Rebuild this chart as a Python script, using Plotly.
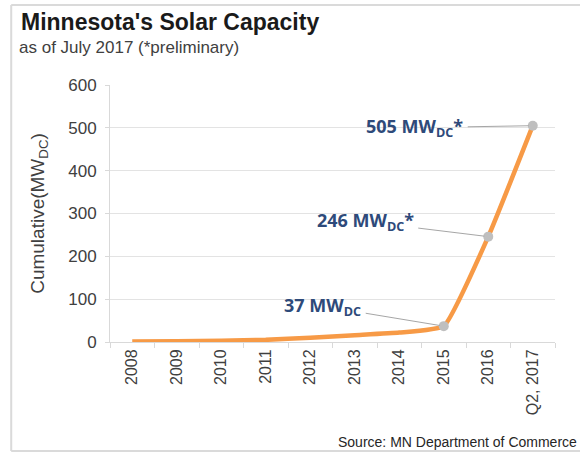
import plotly.graph_objects as go

categories = ["2008", "2009", "2010", "2011", "2012", "2013", "2014", "2015", "2016", "Q2, 2017"]
capacity = [1, 2, 3, 5, 10, 16, 22, 37, 246, 505]
labeled_idx = [7, 8, 9]
label_texts = ["37 MW<sub>DC</sub>", "246 MW<sub>DC</sub>*", "505 MW<sub>DC</sub>*"]
label_offsets = [(-121, -20), (-123, -15), (-118, 2)]
y_ticks = [0, 100, 200, 300, 400, 500, 600]

fig = go.Figure()
fig.add_trace(go.Scatter(
    x=categories, y=capacity, mode="lines",
    line=dict(color="#F79A46", width=4.5, shape="spline", smoothing=0.4),
    hoverinfo="skip", showlegend=False))
fig.add_trace(go.Scatter(
    x=[categories[i] for i in labeled_idx], y=[capacity[i] for i in labeled_idx],
    mode="markers", marker=dict(color="#BFBFBF", size=10),
    showlegend=False))

for i, t, (ax, ay) in zip(labeled_idx, label_texts, label_offsets):
    fig.add_annotation(
        x=i, y=capacity[i], text=t, showarrow=True,
        arrowhead=0, arrowwidth=1, arrowcolor="#A6A6A6", ax=ax, ay=ay,
        standoff=4, startstandoff=3,
        font=dict(family="Open Sans, Arial", size=18, color="#2E4A7A", weight="bold"))

fig.update_layout(
    width=580, height=453,
    margin=dict(l=110, r=25, t=85, b=111),
    paper_bgcolor="white", plot_bgcolor="white",
    font=dict(family="Liberation Sans, Arial", color="#404040"),
    xaxis=dict(type="category", range=[-0.5, 9.5], tickangle=-90,
               tickson="boundaries", ticks="outside", ticklen=5, tickcolor="#D9D9D9",
               showline=True, linecolor="#D9D9D9", linewidth=1, showgrid=False,
               tickfont=dict(size=16, color="#404040")),
    yaxis=dict(range=[0, 600], tickvals=y_ticks, ticks="outside", ticklen=4,
               tickcolor="#D9D9D9", showline=True, linecolor="#D9D9D9",
               gridcolor="#E3E3E3", gridwidth=1, zeroline=False,
               ticklabelstandoff=5,
               tickfont=dict(size=17, color="#404040"),
               title=dict(text="Cumulative(MW<sub>DC</sub>)", standoff=18,
                          font=dict(size=19, color="#404040"))),
)

# Titles and source
fig.add_annotation(xref="paper", yref="paper", x=-0.205, y=1.245, xanchor="left", yanchor="middle",
                   text="<b>Minnesota's Solar Capacity</b>", showarrow=False,
                   font=dict(family="Liberation Sans, Arial", size=23, color="#1A1A1A"))
fig.add_annotation(xref="paper", yref="paper", x=-0.21, y=1.144, xanchor="left", yanchor="middle",
                   text="as of July 2017 (*preliminary)", showarrow=False,
                   font=dict(family="Liberation Sans, Arial", size=17, color="#404040"))
fig.add_annotation(xref="paper", yref="paper", x=1.053, y=-0.39, xanchor="right", yanchor="middle",
                   text="Source: MN Department of Commerce", showarrow=False,
                   font=dict(family="Liberation Sans Narrow, Liberation Sans, Arial", size=14, color="#262626"))

# Frame
frame = dict(color="#DADADA", width=2)
fig.add_shape(type="line", xref="paper", yref="paper", x0=-0.222, x1=1.1, y0=1.311, y1=1.311, line=frame)
fig.add_shape(type="line", xref="paper", yref="paper", x0=-0.222, x1=-0.222, y0=1.311, y1=-0.424, line=frame)
fig.add_shape(type="line", xref="paper", yref="paper", x0=-0.222, x1=1.1, y0=-0.424, y1=-0.424, line=frame)

fig.write_html("out.html", config={"displayModeBar": False},
               post_script="document.body.style.margin='0';")
